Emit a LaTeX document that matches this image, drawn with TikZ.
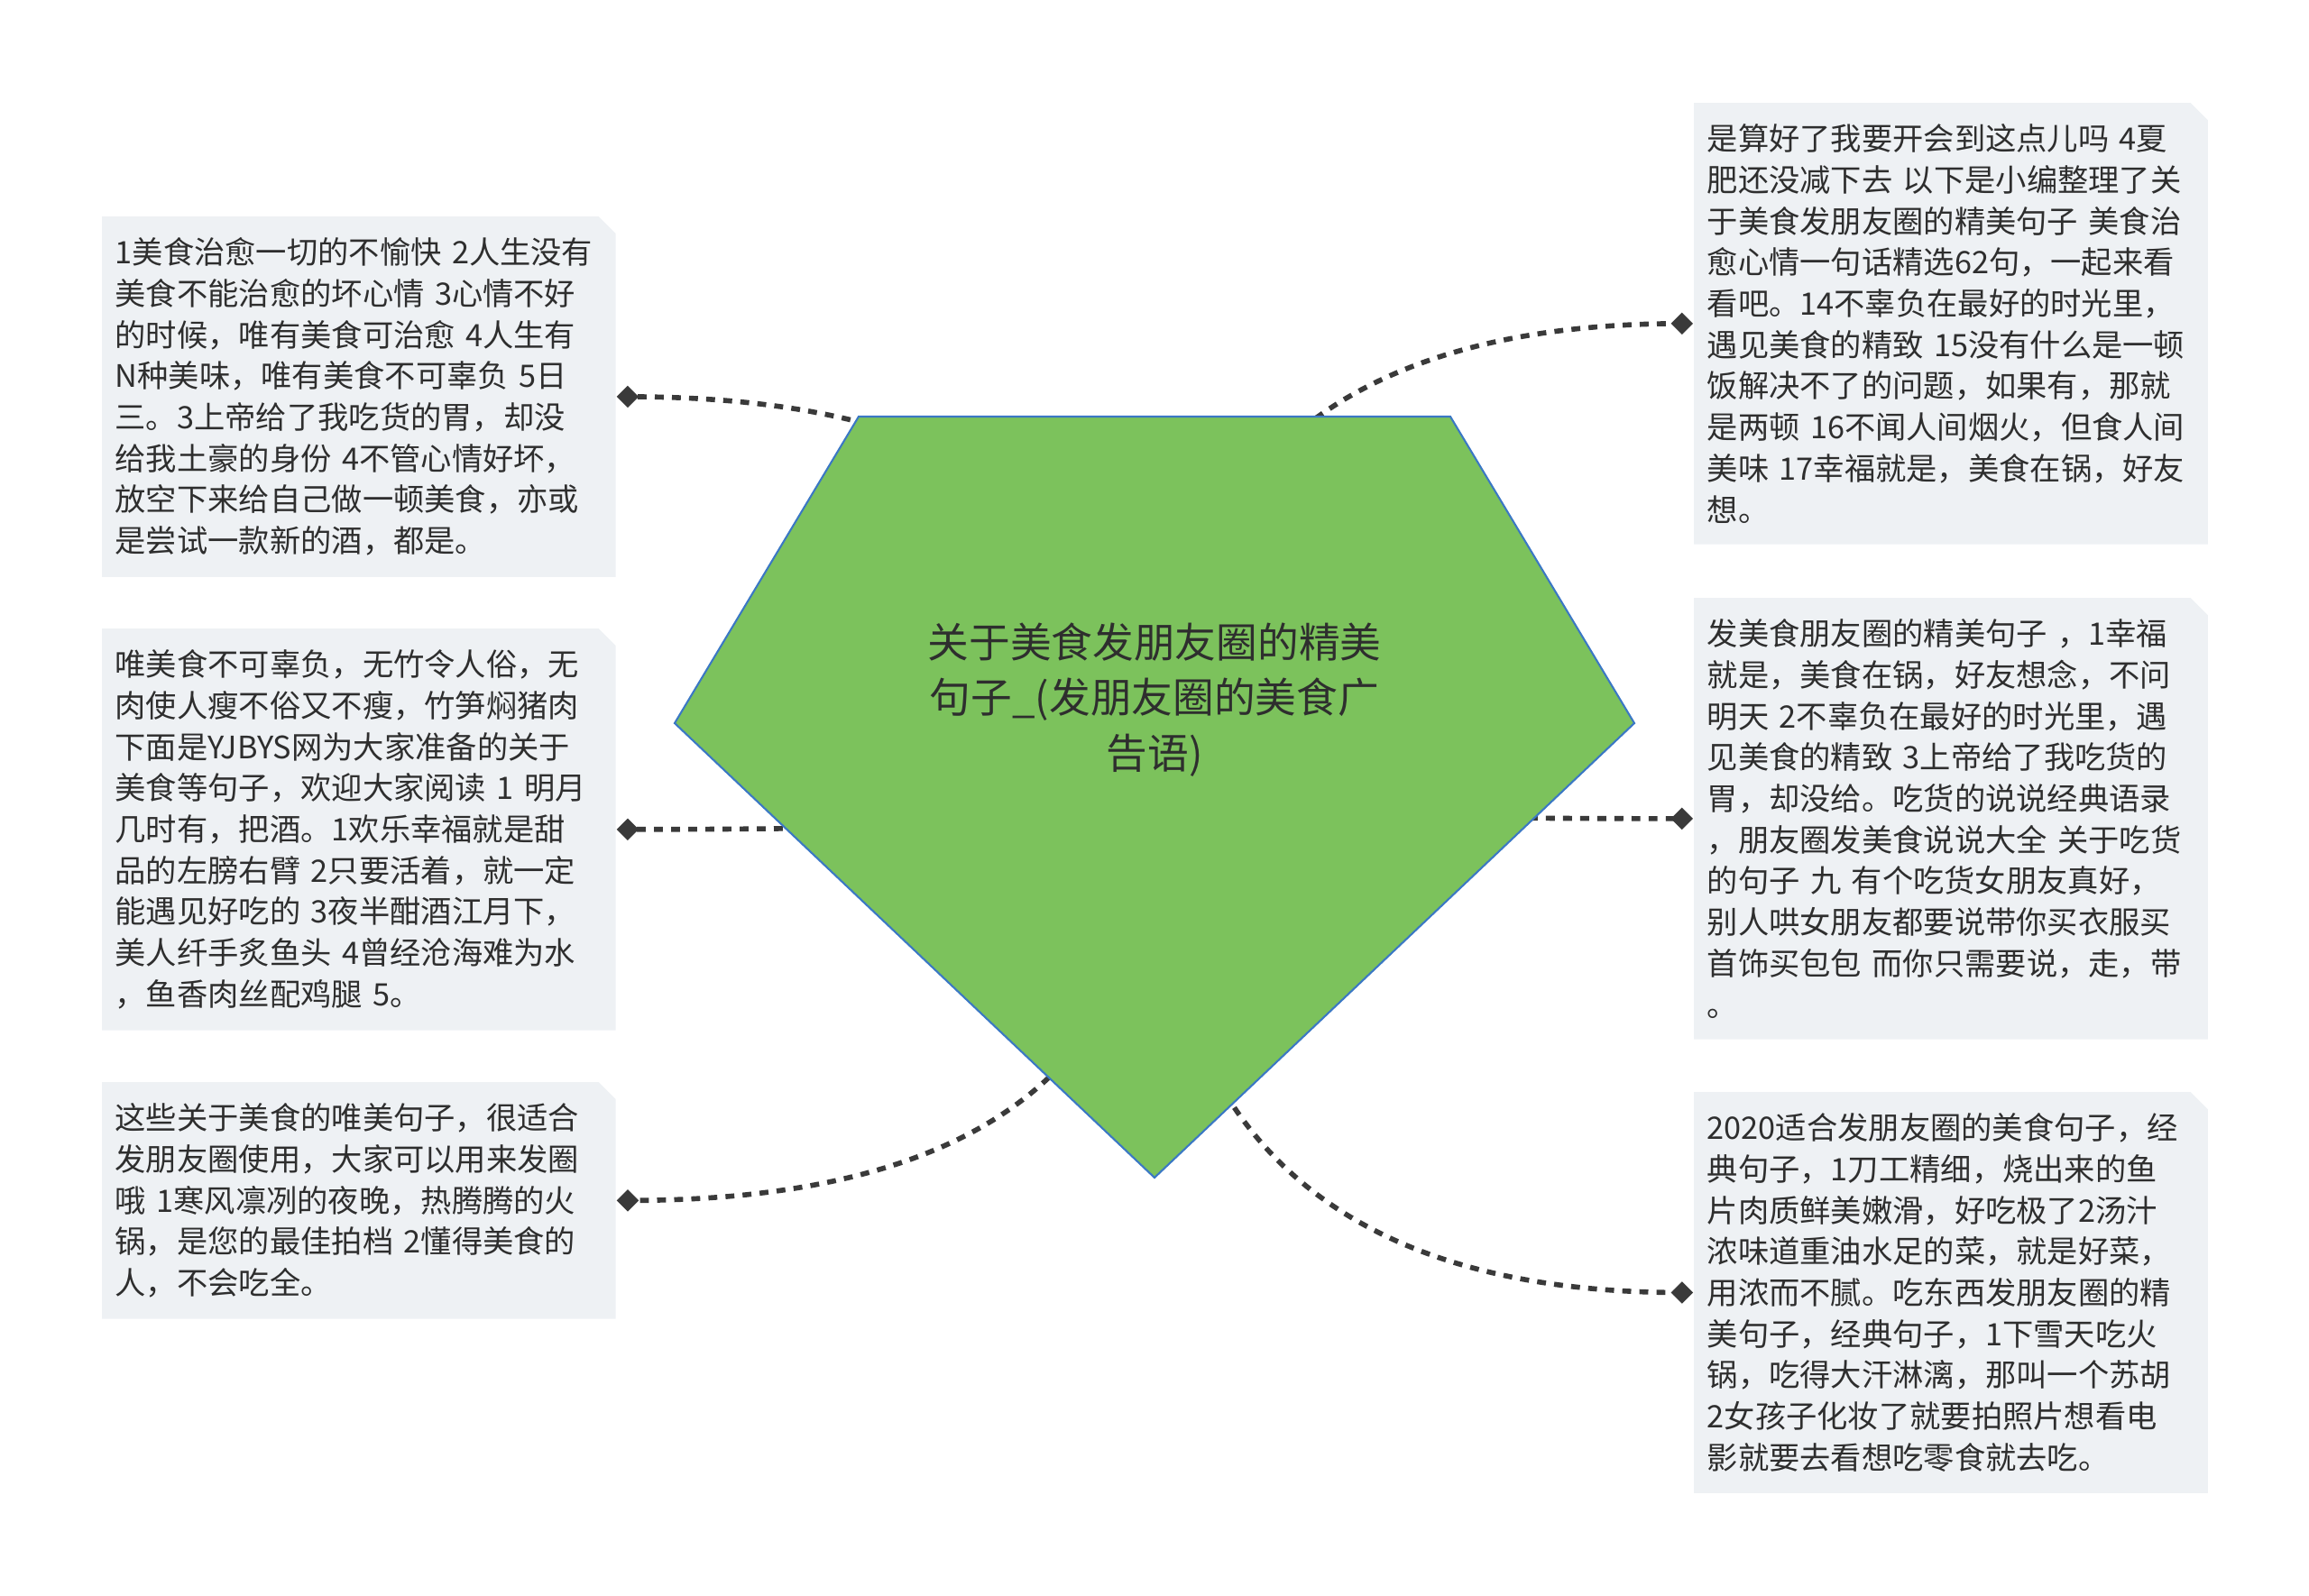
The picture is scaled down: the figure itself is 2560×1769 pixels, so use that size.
\documentclass[tikz,border=0pt]{standalone}
\usepackage{fontspec}
\setmainfont{Noto Sans CJK SC}
\usepackage{tikz}
\usetikzlibrary{
	shapes.geometric,           % For the diamond markers
	positioning,                % For "right=0pt of node" syntax
	calc,                       % For the control points of the links
	backgrounds                 % For the note fills behind the text
}
\definecolor{leafbg}{HTML}{EEF1F4}
\definecolor{rootgreen}{HTML}{7CC25C}
\definecolor{rootedge}{HTML}{3B78C4}
\definecolor{linkgray}{HTML}{3A3A3A}
\definecolor{inkgray}{HTML}{2E2E2E}
\tikzset{
	leaf/.style={
		anchor=north west,
		text width=5.4cm,
		align=left,
		inner xsep=0.14cm,
		inner ysep=6.5pt,
		text=inkgray,
		font=\fontsize{9.75pt}{13pt}\selectfont
	},
	marker/.style={
		diamond,
		fill=linkgray,
		inner sep=0pt,
		minimum size=0.25cm
	},
	link/.style={
		draw=linkgray,
		line width=1.6pt,
		dash pattern=on 2.8pt off 2.6pt
	}
}

\begin{document}
\begin{tikzpicture}[x=0.01cm, y=-0.01cm]
	\useasboundingbox (0,0) rectangle (2560,1769);

	% Left column of notes
	\node [leaf] (l1) at (113,240) {1美食治愈一切的不愉快 2人生没有\\美食不能治愈的坏心情 3心情不好\\的时候，唯有美食可治愈 4人生有\\N种美味，唯有美食不可辜负 5日\\三。3上帝给了我吃货的胃，却没\\给我土豪的身份 4不管心情好坏，\\放空下来给自己做一顿美食，亦或\\是尝试一款新的酒，都是。};
	\node [leaf] (l2) at (113,697) {唯美食不可辜负，无竹令人俗，无\\肉使人瘦不俗又不瘦，竹笋焖猪肉\\下面是YJBYS网为大家准备的关于\\美食等句子，欢迎大家阅读 1 明月\\几时有，把酒。1欢乐幸福就是甜\\品的左膀右臂 2只要活着，就一定\\能遇见好吃的 3夜半酣酒江月下，\\美人纤手炙鱼头 4曾经沧海难为水\\，鱼香肉丝配鸡腿 5。};
	\node [leaf] (l3) at (113,1200) {这些关于美食的唯美句子，很适合\\发朋友圈使用，大家可以用来发圈\\哦 1寒风凛冽的夜晚，热腾腾的火\\锅，是您的最佳拍档 2懂得美食的\\人，不会吃全。};

	% Right column of notes
	\node [leaf] (r1) at (1878,114) {是算好了我要开会到这点儿吗 4夏\\肥还没减下去 以下是小编整理了关\\于美食发朋友圈的精美句子 美食治\\愈心情一句话精选62句，一起来看\\看吧。14不辜负在最好的时光里，\\遇见美食的精致 15没有什么是一顿\\饭解决不了的问题，如果有，那就\\是两顿 16不闻人间烟火，但食人间\\美味 17幸福就是，美食在锅，好友\\想。};
	\node [leaf] (r2) at (1878,663) {发美食朋友圈的精美句子 ，1幸福\\就是，美食在锅，好友想念，不问\\明天 2不辜负在最好的时光里，遇\\见美食的精致 3上帝给了我吃货的\\胃，却没给。吃货的说说经典语录\\，朋友圈发美食说说大全 关于吃货\\的句子 九 有个吃货女朋友真好，\\别人哄女朋友都要说带你买衣服买\\首饰买包包 而你只需要说，走，带\\。};
	\node [leaf] (r3) at (1878,1211) {2020适合发朋友圈的美食句子，经\\典句子，1刀工精细，烧出来的鱼\\片肉质鲜美嫩滑，好吃极了2汤汁\\浓味道重油水足的菜，就是好菜，\\用浓而不腻。吃东西发朋友圈的精\\美句子，经典句子，1下雪天吃火\\锅，吃得大汗淋漓，那叫一个苏胡\\2女孩子化妆了就要拍照片想看电\\影就要去看想吃零食就去吃。};

	% Note fills with the cut corner
	\begin{scope}[on background layer]
		\foreach \n in {l1,l2,l3,r1,r2,r3}
			\fill [leafbg] (\n.south west) |- ([xshift=-0.19cm]\n.north east)
				-- ([yshift=-0.19cm]\n.north east) -- (\n.south east) -- cycle;
	\end{scope}

	% Diamonds on the inner side of each note
	\node [marker, right=0pt of l1] (d1) {};
	\node [marker, right=0pt of l2] (d2) {};
	\node [marker, right=0pt of l3] (d3) {};
	\node [marker, left=0pt of r1] (d4) {};
	\node [marker, left=0pt of r2] (d5) {};
	\node [marker, left=0pt of r3] (d6) {};

	% Links from the middle of the pentagon, drawn under it
	\coordinate (hub) at (1280,884);
	\foreach \d in {d1,d2,d3,d4,d5,d6}
		\draw [link] (hub) .. controls ($(hub)!2/3!(hub |- \d)$) and ($(\d.center)!2/3!(hub |- \d)$) .. (\d.center);

	% Central pentagon
	\draw [fill=rootgreen, draw=rootedge, line width=0.6pt]
		(952,462) -- (1608,462) -- (1812,802) -- (1280,1306) -- (748,802) -- cycle;
	\node [align=center, text=inkgray, font=\fontsize{13pt}{17.4pt}\selectfont] (root) at (1280,776)
		{关于美食发朋友圈的精美\\句子\_(发朋友圈的美食广\\告语)};
\end{tikzpicture}
\end{document}
